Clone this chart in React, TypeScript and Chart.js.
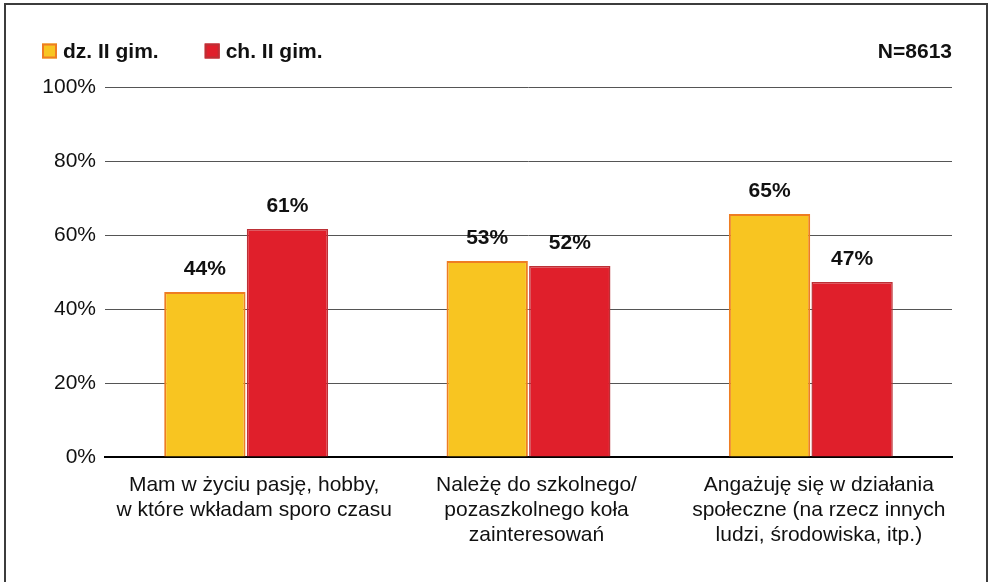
import React, { useEffect, useRef } from "react";
import { Chart, registerables } from "chart.js";

Chart.register(...registerables);

const categories = [
  ["Mam w życiu pasję, hobby,", "w które wkładam sporo czasu"],
  ["Należę do szkolnego/", "pozaszkolnego koła", "zainteresowań"],
  ["Angażuję się w działania", "społeczne (na rzecz innych", "ludzi, środowiska, itp.)"],
];
const seriesNames = ["dz. II gim.", "ch. II gim."];
const girlsValues = [44.6, 53.0, 65.7];
const boysValues = [61.6, 51.6, 47.3];
const girlsLabels = ["44%", "53%", "65%"];
const boysLabels = ["61%", "52%", "47%"];
const yTicks = [0, 20, 40, 60, 80, 100];
const sampleNote = "N=8613";

const FONT = "'Liberation Sans', Arial, Helvetica, sans-serif";
const YELLOW = "#F8C521";
const YELLOW_BORDER = "#EE7D23";
const RED = "#E01F2B";
const RED_BORDER = "#BC3036";

const valueLabels = [girlsLabels, boysLabels];

const decorPlugin = {
  id: "decor",
  beforeDraw(chart: any) {
    const ctx = chart.ctx;
    ctx.save();
    ctx.fillStyle = "#ffffff";
    ctx.fillRect(0, 0, chart.width, chart.height);
    ctx.strokeStyle = "#3c3c3c";
    ctx.lineWidth = 2;
    ctx.strokeRect(5, 4, 982, 640);
    ctx.restore();
  },
  afterDatasetsDraw(chart: any) {
    const ctx = chart.ctx;
    ctx.save();
    ctx.font = `bold 21px ${FONT}`;
    ctx.fillStyle = "#111";
    ctx.textAlign = "center";
    ctx.textBaseline = "middle";
    chart.data.datasets.forEach((ds: any, di: number) => {
      const meta = chart.getDatasetMeta(di);
      meta.data.forEach((bar: any, i: number) => {
        ctx.fillText(valueLabels[di][i], bar.x, bar.y - 23);
      });
    });
    ctx.restore();
  },
  afterDraw(chart: any) {
    const ctx = chart.ctx;
    ctx.save();
    ctx.font = `bold 21px ${FONT}`;
    ctx.textBaseline = "middle";
    ctx.fillStyle = "#111";
    let x = 42;
    const y = 51;
    chart.data.datasets.forEach((ds: any) => {
      ctx.fillStyle = ds.backgroundColor;
      ctx.fillRect(x, y - 7.5, 15, 15);
      ctx.strokeStyle = ds.borderColor;
      ctx.lineWidth = 2;
      ctx.strokeRect(x + 1, y - 6.5, 13, 13);
      ctx.fillStyle = "#111";
      ctx.textAlign = "left";
      ctx.fillText(ds.label, x + 21, y + 1);
      x += 21 + ctx.measureText(ds.label).width + 46;
    });
    ctx.textAlign = "right";
    ctx.fillText(sampleNote, 952, y + 1);
    ctx.restore();
  },
};

export default function App() {
  const ref = useRef<HTMLCanvasElement | null>(null);
  useEffect(() => {
    if (!ref.current) return;
    const chart = new Chart(ref.current, {
      type: "bar",
      data: {
        labels: categories as any,
        datasets: [
          {
            label: seriesNames[0],
            data: girlsValues,
            backgroundColor: YELLOW,
            borderColor: YELLOW_BORDER,
            borderWidth: 2,
            barPercentage: 0.985,
            categoryPercentage: 0.585,
          },
          {
            label: seriesNames[1],
            data: boysValues,
            backgroundColor: RED,
            borderColor: RED_BORDER,
            borderWidth: 1.5,
            barPercentage: 0.985,
            categoryPercentage: 0.585,
          },
        ],
      },
      options: {
        responsive: false,
        animation: false,
        devicePixelRatio: 1,
        layout: { padding: { top: 87, right: 38, left: 0, bottom: 0 } },
        plugins: {
          legend: { display: false },
          tooltip: { enabled: false },
          title: { display: false },
        },
        scales: {
          x: {
            grid: { display: false },
            border: { display: true, color: "#000", width: 2 },
            ticks: {
              color: "#111",
              font: { family: FONT, size: 21, lineHeight: 1.19 },
              padding: 8,
              labelOffset: 8,
              maxRotation: 0,
              autoSkip: false,
            },
            afterFit(scale: any) {
              scale.height = 125;
            },
          },
          y: {
            min: 0,
            max: 100,
            grid: { color: "#555", lineWidth: 1, drawTicks: false },
            border: { display: false },
            ticks: {
              color: "#111",
              font: { family: FONT, size: 21 },
              padding: 9,
              callback: (v: any) => `${v}%`,
            },
            afterBuildTicks(scale: any) {
              scale.ticks = yTicks.map((v) => ({ value: v }));
            },
            afterFit(scale: any) {
              scale.width = 105;
            },
          },
        },
      },
      plugins: [decorPlugin],
    });
    return () => chart.destroy();
  }, []);
  return (
    <div style={{ position: "fixed", left: 0, top: 0, width: 990, height: 582, background: "#fff" }}>
      <canvas ref={ref} width={990} height={582} style={{ display: "block" }} />
    </div>
  );
}
